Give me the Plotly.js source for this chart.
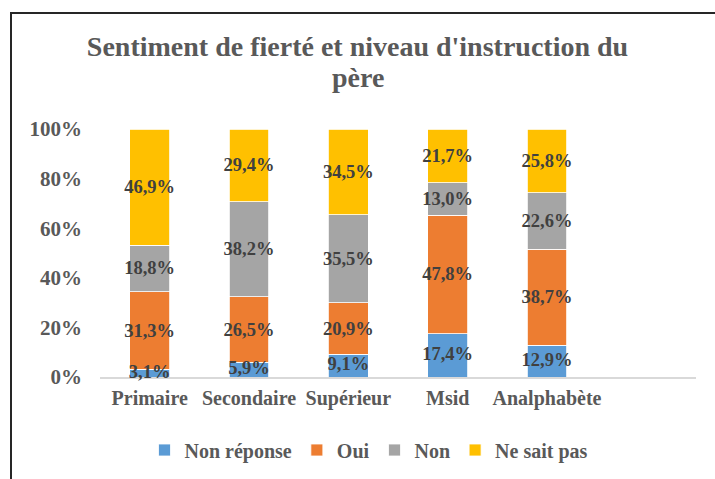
<!DOCTYPE html>
<html>
<head>
<meta charset="utf-8">
<script src="https://cdn.plot.ly/plotly-3.0.1.min.js"></script>
<style>
  html, body { margin: 0; padding: 0; background: #fff; overflow: hidden; }
  #chart { width: 715px; height: 479px; }
  #frame { position: absolute; left: 10px; top: 12px; width: 900px; height: 700px;
           border-left: 2px solid #262626; border-top: 2px solid #262626; pointer-events: none; }
</style>
</head>
<body>
<div id="chart"></div>
<div id="frame"></div>
<script>
const categories = ['Primaire', 'Secondaire', 'Supérieur', 'Msid', 'Analphabète'];
const seriesNames = ['Non réponse', 'Oui', 'Non', 'Ne sait pas'];
const nonReponse = [3.1, 5.9, 9.1, 17.4, 12.9];
const oui = [31.3, 26.5, 20.9, 47.8, 38.7];
const non = [18.8, 38.2, 35.5, 13.0, 22.6];
const neSaitPas = [46.9, 29.4, 34.5, 21.7, 25.8];
const yTickVals = [0, 20, 40, 60, 80, 100];
const yTickText = ['0%', '20%', '40%', '60%', '80%', '100%'];
const titleLine1 = "Sentiment de fierté et niveau d'instruction du";
const titleLine2 = 'père';

const colors = ['#5B9BD5', '#ED7D31', '#A5A5A5', '#FFC000'];
const serif = 'Liberation Serif, Times New Roman, serif';
const fmt = v => v.toFixed(1).replace('.', ',') + '%';
const labelFont = { family: serif, size: 18.5, color: '#404040', weight: 700 };

const seriesValues = [nonReponse, oui, non, neSaitPas];
const traces = seriesValues.map((vals, i) => ({
  type: 'bar',
  name: seriesNames[i],
  x: categories,
  y: vals,
  text: vals.map(fmt),
  textposition: i === 0 ? 'none' : 'inside',
  insidetextanchor: 'middle',
  textangle: 0,
  constraintext: 'none',
  cliponaxis: false,
  textfont: labelFont,
  marker: { color: colors[i], line: { color: '#ffffff', width: 0.8 } },
  hoverinfo: 'x+name+text'
}));

// labels of the bottom series drawn on top of everything (they overflow their thin segments)
const totals = categories.map((_, k) => seriesValues.reduce((s, arr) => s + arr[k], 0));
traces.push({
  type: 'scatter',
  mode: 'text',
  x: categories,
  y: nonReponse.map((v, k) => (v / totals[k]) * 100 / 2),
  text: nonReponse.map(fmt),
  textposition: 'middle center',
  textfont: labelFont,
  cliponaxis: false,
  showlegend: false,
  hoverinfo: 'skip'
});

const layout = {
  width: 715,
  height: 479,
  paper_bgcolor: '#ffffff',
  plot_bgcolor: '#ffffff',
  margin: { l: 100, r: 19, t: 129, b: 102 },
  barmode: 'stack',
  barnorm: 'percent',
  bargap: 0.6,
  uniformtext: { mode: 'show', minsize: 18.5 },
  font: { family: serif, color: '#595959' },
  title: {
    text: titleLine1,
    font: { family: serif, size: 28, color: '#595959', weight: 700 },
    x: 0.5, xref: 'container', xanchor: 'center',
    y: 1 - 46 / 479, yref: 'container', yanchor: 'middle'
  },
  annotations: [{
    text: titleLine2,
    showarrow: false,
    xref: 'paper', yref: 'paper',
    x: (357.5 - 100) / 596, xanchor: 'center',
    y: 1 + (129 - 77) / 248, yanchor: 'middle',
    font: { family: serif, size: 28, color: '#595959', weight: 700 }
  }],
  xaxis: {
    type: 'category',
    range: [-0.5, 5.5],
    showline: true,
    linecolor: '#D9D9D9',
    linewidth: 2,
    layer: 'below traces',
    showgrid: false,
    zeroline: false,
    ticks: '',
    ticklabelstandoff: 2,
    tickfont: { family: serif, size: 20, color: '#595959', weight: 700 },
    fixedrange: true
  },
  yaxis: {
    range: [0, 100],
    tickvals: yTickVals,
    ticktext: yTickText,
    showline: false,
    showgrid: false,
    zeroline: false,
    ticks: '',
    ticklabelstandoff: 17,
    tickfont: { family: serif, size: 21, color: '#595959', weight: 700 },
    fixedrange: true
  },
  showlegend: true,
  legend: {
    orientation: 'h',
    xref: 'container', yref: 'container',
    x: 369 / 715, xanchor: 'center',
    y: 1 - 450 / 479, yanchor: 'middle',
    traceorder: 'normal',
    itemwidth: 30,
    font: { family: serif, size: 20, color: '#595959', weight: 700 }
  }
};

Plotly.newPlot('chart', traces, layout, { displayModeBar: false, staticPlot: true });
</script>
</body>
</html>
